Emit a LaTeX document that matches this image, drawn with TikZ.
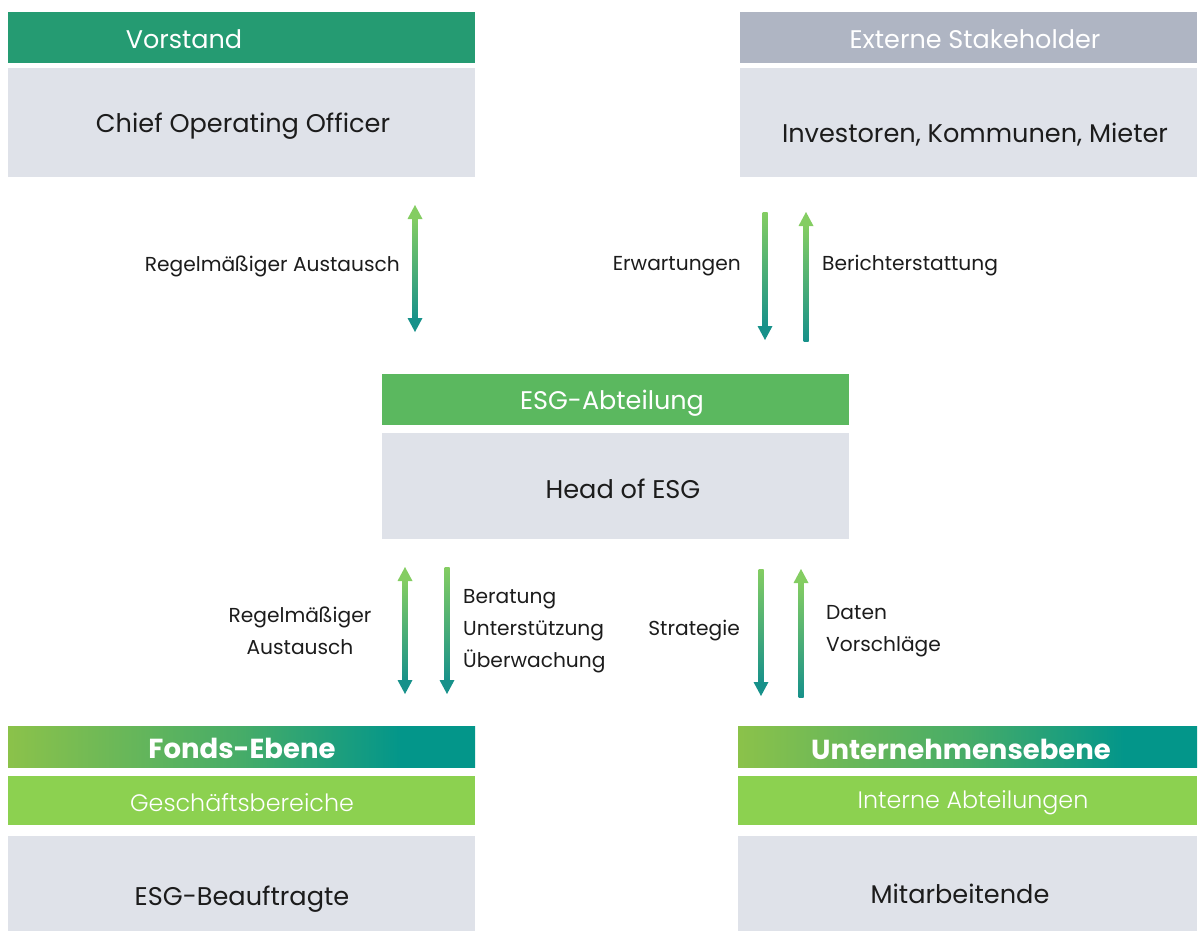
\documentclass[tikz,border=0pt]{standalone}
\usepackage{fontspec}
\setmainfont{Poppins}
\newfontfamily\lightfont{Poppins Light}
\usetikzlibrary{calc}
\definecolor{vorgreen}{HTML}{259B72}
\definecolor{extgray}{HTML}{AFB5C3}
\definecolor{esggreen}{HTML}{5BB85F}
\definecolor{boxgray}{HTML}{DFE2E9}
\definecolor{lightgreen}{HTML}{8CD150}
\definecolor{txt}{HTML}{1C1C1C}
\definecolor{gradl}{HTML}{8BC24A}
\definecolor{gradm}{HTML}{46AC68}
\definecolor{gradr}{HTML}{03968A}
\definecolor{arrgreen}{HTML}{84CD62}
\definecolor{arrteal}{HTML}{17918A}
\pgfdeclarehorizontalshading{bandshade}{100bp}{color(0bp)=(gradl); color(25bp)=(gradl); color(50bp)=(gradm); color(67bp)=(gradr); color(100bp)=(gradr)}
\newcommand\arrdown[2]{%
  \shade[top color=arrgreen,bottom color=arrteal] ($(#1)+(-2.5,0)$) rectangle ($(#2)+(2.5,-13)$);
  \fill[arrteal] ($(#2)+(-7.5,-14)$) -- ($(#2)+(7.5,-14)$) -- (#2) -- cycle;}
\newcommand\arrup[2]{%
  \shade[top color=arrgreen,bottom color=arrteal] ($(#1)+(-2.5,13)$) rectangle ($(#2)+(2.5,0)$);
  \fill[arrgreen] ($(#1)+(-7.5,14)$) -- ($(#1)+(7.5,14)$) -- (#1) -- cycle;}
\newcommand\arrboth[2]{%
  \shade[top color=arrgreen,bottom color=arrteal] ($(#1)+(-2.5,13)$) rectangle ($(#2)+(2.5,-13)$);
  \fill[arrgreen] ($(#1)+(-7.5,14)$) -- ($(#1)+(7.5,14)$) -- (#1) -- cycle;
  \fill[arrteal] ($(#2)+(-7.5,-14)$) -- ($(#2)+(7.5,-14)$) -- (#2) -- cycle;}
\begin{document}
\begin{tikzpicture}[x=1pt,y=-1pt,
  blk/.style={draw=none,inner sep=0pt,anchor=north west},
  hdrtext/.style={text=white,font=\fontsize{25.5}{30}\selectfont,inner sep=0pt},
  lighttext/.style={text=white,font=\lightfont\fontsize{23.8}{30}\selectfont,inner sep=0pt},
  boxtext/.style={text=txt,font=\fontsize{25.6}{30}\selectfont,inner sep=0pt,yshift=-3pt},
  lbl/.style={text=txt,font=\fontsize{20.2}{32}\selectfont,inner sep=0pt,align=left,yshift=-3pt},
  boldhdr/.style={text=white,font=\fontsize{27.5}{30}\selectfont\bfseries,inner sep=0pt},
  band/.style={blk,shading=bandshade}]
\useasboundingbox (0,0) rectangle (1198,931);
% top left
\node[blk,fill=vorgreen,minimum width=467pt,minimum height=51pt] (vor) at (8,12) {};
\node[hdrtext] (vort) at (184,39) {Vorstand};
\node[blk,fill=boxgray,minimum width=467pt,minimum height=109pt] (coo) at (8,68) {};
\node[boxtext] (coot) at (243,123) {Chief Operating Officer};
% top right
\node[blk,fill=extgray,minimum width=457pt,minimum height=51pt] (ext) at (740,12) {};
\node[hdrtext] (extt) at (975,39) {Externe Stakeholder};
\node[blk,fill=boxgray,minimum width=457pt,minimum height=109pt] (inv) at (740,68) {};
\node[boxtext] (invt) at (975,132) {Investoren, Kommunen, Mieter};
% middle
\node[blk,fill=esggreen,minimum width=467pt,minimum height=51pt] (esg) at (382,374) {};
\node[hdrtext] (esgt) at (612,403) {ESG-Abteilung};
\node[blk,fill=boxgray,minimum width=467pt,minimum height=106pt] (head) at (382,433) {};
\node[boxtext] (headt) at (623,486) {Head of ESG};
% bottom left
\node[band,minimum width=467pt,minimum height=41pt] (fonds) at (8,726) {};
\node[boldhdr] (fondst) at (242,748) {Fonds-Ebene};
\node[blk,fill=lightgreen,minimum width=467pt,minimum height=49pt] (ges) at (8,776) {};
\node[lighttext] (gest) at (242,803) {Geschäftsbereiche};
\node[blk,fill=boxgray,minimum width=467pt,minimum height=95pt] (beau) at (8,836) {};
\node[boxtext] (beaut) at (242,896) {ESG-Beauftragte};
% bottom right
\node[band,minimum width=459pt,minimum height=41pt] (unt) at (738,726) {};
\node[boldhdr] (untt) at (961,749) {Unternehmensebene};
\node[blk,fill=lightgreen,minimum width=459pt,minimum height=49pt] (int) at (738,776) {};
\node[lighttext] (intt) at (973,803) {Interne Abteilungen};
\node[blk,fill=boxgray,minimum width=459pt,minimum height=95pt] (mit) at (738,836) {};
\node[boxtext] (mitt) at (960,891) {Mitarbeitende};
% arrows
\coordinate (a1t) at (415,205); \coordinate (a1b) at (415,332);
\coordinate (a2t) at (765,212); \coordinate (a2b) at (765,340);
\coordinate (a3t) at (806,212); \coordinate (a3b) at (806,341);
\coordinate (a4t) at (405,567); \coordinate (a4b) at (405,694);
\coordinate (a5t) at (447,567); \coordinate (a5b) at (447,694);
\coordinate (a6t) at (761,569); \coordinate (a6b) at (761,696);
\coordinate (a7t) at (801,569); \coordinate (a7b) at (801,697);
\arrboth{a1t}{a1b}
\arrdown{a2t}{a2b}
\arrup{a3t}{a3b}
\arrboth{a4t}{a4b}
\arrdown{a5t}{a5b}
\arrdown{a6t}{a6b}
\arrup{a7t}{a7b}
% labels
\node[lbl,anchor=east] (l1) at (400,263) {Regelmäßiger Austausch};
\node[lbl,anchor=east] (l2) at (741,263) {Erwartungen};
\node[lbl,anchor=west] (l3) at (822,263) {Berichterstattung};
\node[lbl,align=center] (l4) at (300,628) {Regelmäßiger\\Austausch};
\node[lbl,anchor=west] (l5) at (463,628) {Beratung\\Unterstützung\\Überwachung};
\node[lbl,anchor=east] (l6) at (740,628) {Strategie};
\node[lbl,anchor=west] (l7) at (826,628) {Daten\\Vorschläge};
\end{tikzpicture}
\end{document}
